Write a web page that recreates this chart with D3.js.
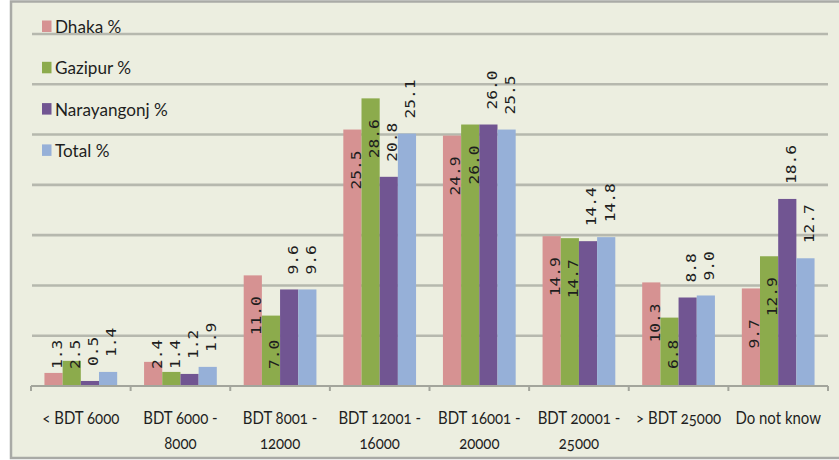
<!DOCTYPE html>
<html>
<head>
<meta charset="utf-8">
<script src="https://cdn.jsdelivr.net/npm/d3@7"></script>
<style>
  html, body { margin: 0; padding: 0; background: #ffffff; }
  svg { display: block; }
</style>
</head>
<body>
<svg id="chart" width="839" height="460"></svg>
<script>
// Monthly household income groups
const categories = ["< BDT 6000", "BDT 6000 - 8000", "BDT 8001 - 12000", "BDT 12001 - 16000",
                    "BDT 16001 - 20000", "BDT 20001 - 25000", "> BDT 25000", "Do not know"];
const seriesNames = ["Dhaka %", "Gazipur %", "Narayangonj %", "Total %"];
const dhaka       = [1.3, 2.4, 11.0, 25.5, 24.9, 14.9, 10.3, 9.7];
const gazipur     = [2.5, 1.4, 7.0, 28.6, 26.0, 14.7, 6.8, 12.9];
const narayangonj = [0.5, 1.2, 9.6, 20.8, 26.0, 14.4, 8.8, 18.6];
const total       = [1.4, 1.9, 9.6, 25.1, 25.5, 14.8, 9.0, 12.7];
const yTicks      = [0, 5, 10, 15, 20, 25, 30, 35];

const seriesValues = [dhaka, gazipur, narayangonj, total];
const colors = ["#d69292", "#8cab4c", "#715592", "#96b0d8"];
// Dhaka and Gazipur labels sit inside the bar, the others just above it
const labelInside = [true, true, false, false];

const svg = d3.select("#chart");

// panel
svg.append("rect")
  .attr("x", 11).attr("y", 1.5)
  .attr("width", 860).attr("height", 456.5)
  .attr("fill", "#eceee0")
  .attr("stroke", "#a9aaa6").attr("stroke-width", 2.5);

const plot = { left: 31, right: 828, top: 34, bottom: 386 };

const y = d3.scaleLinear().domain([0, 35]).range([plot.bottom, plot.top]);
const x0 = d3.scaleBand().domain(categories)
  .range([plot.left, plot.right]).paddingInner(0.27).paddingOuter(0.135);
const x1 = d3.scaleBand().domain(d3.range(seriesNames.length))
  .range([0, x0.bandwidth()]);

// gridlines
svg.append("g").selectAll("line")
  .data(yTicks.filter(d => d > 0))
  .join("line")
  .attr("x1", plot.left + 1).attr("x2", plot.right)
  .attr("y1", d => y(d)).attr("y2", d => y(d))
  .attr("stroke", "#b6b8ae").attr("stroke-width", 2.6);

// bars
const groups = svg.append("g").selectAll("g")
  .data(categories)
  .join("g")
  .attr("transform", d => `translate(${x0(d)},0)`);

groups.selectAll("rect")
  .data((c, ci) => seriesValues.map((vals, si) => ({ si, v: vals[ci] })))
  .join("rect")
  .attr("x", d => x1(d.si))
  .attr("width", x1.bandwidth())
  .attr("y", d => y(d.v))
  .attr("height", d => y(0) - y(d.v))
  .attr("fill", d => colors[d.si]);

// category axis
const step = x0.step();
svg.append("line")
  .attr("x1", plot.left).attr("x2", plot.right)
  .attr("y1", plot.bottom).attr("y2", plot.bottom)
  .attr("stroke", "#a3a59c").attr("stroke-width", 2);
svg.append("g").selectAll("line")
  .data(d3.range(categories.length + 1))
  .join("line")
  .attr("x1", i => plot.left + i * step).attr("x2", i => plot.left + i * step)
  .attr("y1", plot.bottom).attr("y2", plot.bottom + 5)
  .attr("stroke", "#a3a59c").attr("stroke-width", 2);

const textFont = "Lato, 'Open Sans', sans-serif";

categories.forEach(c => {
  const cx = x0(c) + x0.bandwidth() / 2;
  const parts = c.includes(" - ") ? [c.split(" - ")[0] + " -", c.split(" - ")[1]] : [c];
  parts.forEach((line, li) => {
    svg.append("text")
      .attr("transform", `translate(${cx},${424 + li * 25}) scale(0.88,1)`)
      .attr("text-anchor", "middle")
      .attr("font-family", textFont)
      .attr("font-size", 17)
      .style("font-variant-numeric", "oldstyle-nums")
      .attr("fill", "#1e1e1e")
      .text(line);
  });
});

// value labels, rotated
groups.selectAll("text")
  .data((c, ci) => seriesValues.map((vals, si) => ({ si, v: vals[ci] })))
  .join("text")
  .attr("transform", d => {
    const bx = x1(d.si) + x1.bandwidth() / 2 + 3.5;
    const top = y(d.v);
    const start = labelInside[d.si] ? Math.min(top + 60, plot.bottom - 17) : top - 15;
    return `translate(${bx},${start}) rotate(-90) scale(1.2,1)`;
  })
  .attr("dy", "0.36em")
  .attr("font-family", "'DejaVu Sans Mono', monospace")
  .attr("font-size", 13.5)
  .attr("fill", "#1e1e1e")
  .text(d => d.v.toFixed(1));

// legend
const legend = svg.append("g");
seriesNames.forEach((name, i) => {
  const base = 33 + i * 41.3;
  legend.append("rect")
    .attr("x", 42).attr("y", base - 12.5)
    .attr("width", 9.5).attr("height", 11.5)
    .attr("fill", colors[i]);
  legend.append("text")
    .attr("transform", `translate(55,${base}) scale(0.98,1)`)
    .attr("font-family", textFont)
    .attr("font-size", 17.5)
    .attr("fill", "#1e1e1e")
    .text(name);
});
</script>
</body>
</html>
